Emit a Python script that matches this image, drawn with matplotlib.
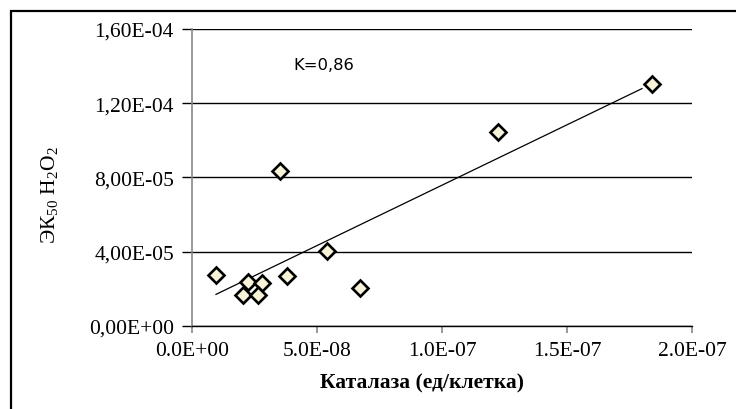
import numpy as np
import matplotlib
matplotlib.use("Agg")
import matplotlib.pyplot as plt
from matplotlib.ticker import FuncFormatter, MultipleLocator
from matplotlib.patches import Rectangle

# Data (catalase units per cell vs EC50 H2O2)
catalase = [9.6e-9, 2.24e-8, 2.8e-8, 2.04e-8, 2.64e-8, 3.8e-8, 5.4e-8, 6.72e-8, 3.52e-8, 1.224e-7, 1.84e-7]
ec50 = [2.75e-5, 2.37e-5, 2.32e-5, 1.67e-5, 1.67e-5, 2.69e-5, 4.04e-5, 2.05e-5, 8.35e-5, 1.045e-4, 1.304e-4]
annotation = "K=0,86"
x_label = "Каталаза (ед/клетка)"
y_label = "ЭК$_{50}$ H$_2$O$_2$"

plt.rcParams['mathtext.fontset'] = 'custom'
plt.rcParams['mathtext.rm'] = 'Liberation Serif'
plt.rcParams['mathtext.it'] = 'Liberation Serif'

W, H = 736, 410
fig = plt.figure(figsize=(W/100, H/100), dpi=100)
ax = fig.add_axes([192/W, 1-327/H, 500/W, 297/H])

x = np.array(catalase); y = np.array(ec50)
k, b = np.polyfit(x, y, 1)
xs = np.array([x.min(), x.max() - 4e-9])
ax.plot(xs, k*xs + b, color='black', lw=0.9, zorder=2)

ax.plot(x, y, linestyle='none', marker='D', markersize=8.5, markerfacecolor='#f7f3d8',
        markeredgecolor='black', markeredgewidth=1.9, zorder=3)

ax.set_xlim(0, 2.0e-7)
ax.set_ylim(0, 1.6e-4)
ax.xaxis.set_major_locator(MultipleLocator(5e-8))
ax.yaxis.set_major_locator(MultipleLocator(4e-5))

def xfmt(v, pos):
    return f"{v:.1E}"
def yfmt(v, pos):
    return f"{v:.2E}".replace('.', ',')
ax.xaxis.set_major_formatter(FuncFormatter(xfmt))
ax.yaxis.set_major_formatter(FuncFormatter(yfmt))

ax.yaxis.grid(True, color='black', lw=1.0)
ax.set_axisbelow(True)
for sp in ['top', 'right']:
    ax.spines[sp].set_visible(False)
ax.spines['left'].set_color('#888888')
ax.spines['left'].set_linewidth(1.2)
ax.spines['bottom'].set_color('black')
ax.spines['bottom'].set_linewidth(1.0)

FS = 15.5
ax.tick_params(axis='y', direction='out', length=7, width=1.0, color='black', pad=6,
               labelsize=FS)
ax.tick_params(axis='x', direction='out', length=5, width=1.2, color='#888888', pad=6,
               labelsize=FS)
for lab in ax.get_xticklabels() + ax.get_yticklabels():
    lab.set_fontfamily('Liberation Serif')

fig.text(422/W, 1-383/H, x_label, ha='center', va='center', fontsize=FS,
         fontweight='bold', family='Liberation Serif')
fig.text(50/W, 1-195/H, y_label, ha='center', va='center', rotation=90, fontsize=FS,
         family='Liberation Serif')
fig.text(293/W, 1-66/H, annotation, ha='left', va='center', fontsize=11.8, family='DejaVu Sans')

fig.patches.append(Rectangle((11/W, -0.1), 1.2, 1-12/H+0.1, transform=fig.transFigure,
                             fill=False, edgecolor='black', lw=1.6, clip_on=False))

fig.savefig('out.png', dpi=100)
